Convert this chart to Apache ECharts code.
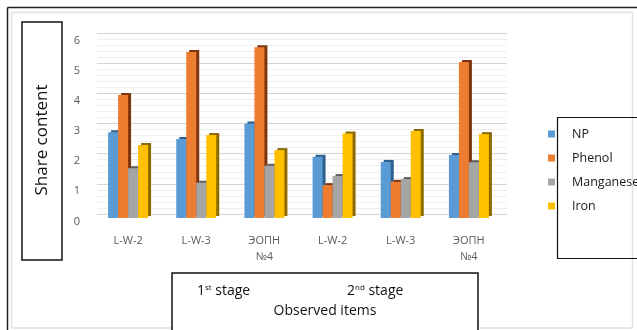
<!DOCTYPE html>
<html>
<head>
<meta charset="utf-8">
<script src="https://cdn.jsdelivr.net/npm/echarts@6/dist/echarts.min.js"></script>
<style>
  html, body { margin: 0; padding: 0; background: #ffffff; }
  #chart { width: 637px; height: 330px; }
</style>
</head>
<body>
<div id="chart"></div>
<script>
// Observed items (two sampling stages, three sites each)
const categories = ['L-W-2', 'L-W-3', 'ЭОПН\n№4', 'L-W-2', 'L-W-3', 'ЭОПН\n№4'];

// Share content per substance
const npValues        = [2.84, 2.62, 3.13, 2.03, 1.86, 2.09];
const phenolValues    = [4.08, 5.50, 5.66, 1.09, 1.20, 5.17];
const manganeseValues = [1.65, 1.17, 1.73, 1.39, 1.29, 1.85];
const ironValues      = [2.42, 2.75, 2.25, 2.80, 2.88, 2.78];

const seriesNames = ['NP', 'Phenol', 'Manganese', 'Iron'];
const yTicks = [0, 6, 1]; // min, max, interval

const faceColors = ['#5B9BD5', '#ED7D31', '#A5A5A5', '#FFC000'];
const sideColors = ['#2F5F8C', '#7E3510', '#5E5E5E', '#8C6A00'];

const chart = echarts.init(document.getElementById('chart'), null, { renderer: 'canvas' });

// Bars get a dark offset shadow so they read as extruded columns
function barSeries(name, data, idx) {
  return {
    name: name,
    type: 'bar',
    xAxisIndex: 0,
    yAxisIndex: 0,
    data: data,
    barWidth: 10,
    barGap: '0%',
    itemStyle: {
      color: faceColors[idx],
      shadowColor: sideColors[idx],
      shadowBlur: 0,
      shadowOffsetX: 3,
      shadowOffsetY: -2
    },
    emphasis: { disabled: true },
    animation: false
  };
}

const option = {
  backgroundColor: '#ffffff',
  animation: false,
  textStyle: { fontFamily: '"Open Sans", "Noto Sans", sans-serif' },
  grid: [
    // grid holding the bars and the value labels
    { left: 94, right: 134, top: 37, bottom: 112 },
    // back wall with the gridlines, lifted slightly behind the bars
    { left: 97, right: 130, top: 33, bottom: 116 }
  ],
  xAxis: [
    {
      type: 'category',
      gridIndex: 0,
      data: categories,
      axisLine: { show: false },
      axisTick: { show: false },
      axisLabel: {
        color: '#595959',
        fontSize: 11,
        lineHeight: 16,
        margin: 15,
        interval: 0
      }
    },
    {
      type: 'category',
      gridIndex: 1,
      data: categories,
      show: false
    }
  ],
  yAxis: [
    {
      type: 'value',
      gridIndex: 0,
      min: yTicks[0],
      max: yTicks[1],
      interval: yTicks[2],
      axisLine: { show: false },
      axisTick: { show: false },
      splitLine: { show: false },
      axisLabel: {
        color: '#595959', fontSize: 11, margin: 14,
        verticalAlign: 'top', lineHeight: 7
      }
    },
    {
      type: 'value',
      gridIndex: 1,
      min: yTicks[0],
      max: yTicks[1],
      interval: yTicks[2],
      axisLine: { show: false },
      axisTick: { show: false },
      axisLabel: { show: false },
      splitLine: { show: true, lineStyle: { color: '#D4D4D4', width: 1 } },
      minorTick: { show: false, splitNumber: 5 },
      minorSplitLine: { show: true, lineStyle: { color: '#EFEFEF', width: 1 } }
    }
  ],
  legend: {
    orient: 'vertical',
    left: 543,
    top: 117,
    itemWidth: 7,
    itemHeight: 7,
    itemGap: 0,
    icon: 'rect',
    selectedMode: false,
    data: seriesNames,
    textStyle: {
      color: '#1a1a1a',
      fontSize: 12.5,
      lineHeight: 24,
      padding: [0, 0, 0, 12]
    }
  },
  series: [
    barSeries(seriesNames[0], npValues, 0),
    barSeries(seriesNames[1], phenolValues, 1),
    barSeries(seriesNames[2], manganeseValues, 2),
    barSeries(seriesNames[3], ironValues, 3)
  ],
  graphic: [
    // outer frame edges
    { type: 'line', shape: { x1: 7.5, y1: 7.5, x2: 637, y2: 7.5 }, style: { stroke: '#222222', lineWidth: 1.5 }, z: 0 },
    { type: 'line', shape: { x1: 7.5, y1: 7.5, x2: 7.5, y2: 330 }, style: { stroke: '#222222', lineWidth: 1.5 }, z: 0 },
    // chart area border
    { type: 'rect', shape: { x: 11.5, y: 12.5, width: 621, height: 315.5 }, style: { fill: 'none', stroke: '#E2E2E2', lineWidth: 1.5 }, z: -1 },
    // y-axis title box
    { type: 'rect', shape: { x: 22, y: 22, width: 40, height: 238 }, style: { fill: '#ffffff', stroke: '#111111', lineWidth: 1.5 }, z: 5 },
    {
      type: 'text', x: 42, y: 140, rotation: Math.PI / 2, z: 6,
      style: {
        text: 'Share content', fill: '#111111', fontSize: 17,
        fontFamily: '"Open Sans", "Noto Sans", sans-serif',
        align: 'center', verticalAlign: 'middle'
      }
    },
    // legend frame
    { type: 'rect', shape: { x: 557.5, y: 117.5, width: 90, height: 141 }, style: { fill: 'none', stroke: '#111111', lineWidth: 1.2 }, z: 5 },
    // x-axis title box
    { type: 'rect', shape: { x: 172, y: 273, width: 306, height: 70 }, style: { fill: '#ffffff', stroke: '#111111', lineWidth: 1.5 }, z: 5 },
    {
      type: 'text', x: 197, y: 291, z: 6,
      style: {
        text: '{n|1}{s|st}{n| stage}',
        verticalAlign: 'middle',
        rich: {
          n: { fontSize: 14, fill: '#111111', fontFamily: '"Open Sans", sans-serif' },
          s: { fontSize: 8, fill: '#111111', verticalAlign: 'top', padding: [0, 0, 6, 0], fontFamily: '"Open Sans", sans-serif' }
        }
      }
    },
    {
      type: 'text', x: 347, y: 291, z: 6,
      style: {
        text: '{n|2}{s|nd}{n| stage}',
        verticalAlign: 'middle',
        rich: {
          n: { fontSize: 14, fill: '#111111', fontFamily: '"Open Sans", sans-serif' },
          s: { fontSize: 8, fill: '#111111', verticalAlign: 'top', padding: [0, 0, 6, 0], fontFamily: '"Open Sans", sans-serif' }
        }
      }
    },
    {
      type: 'text', x: 325, y: 311, z: 6,
      style: {
        text: 'Observed items', fill: '#111111', fontSize: 14,
        fontFamily: '"Open Sans", sans-serif',
        align: 'center', verticalAlign: 'middle'
      }
    }
  ]
};

chart.setOption(option);
</script>
</body>
</html>
